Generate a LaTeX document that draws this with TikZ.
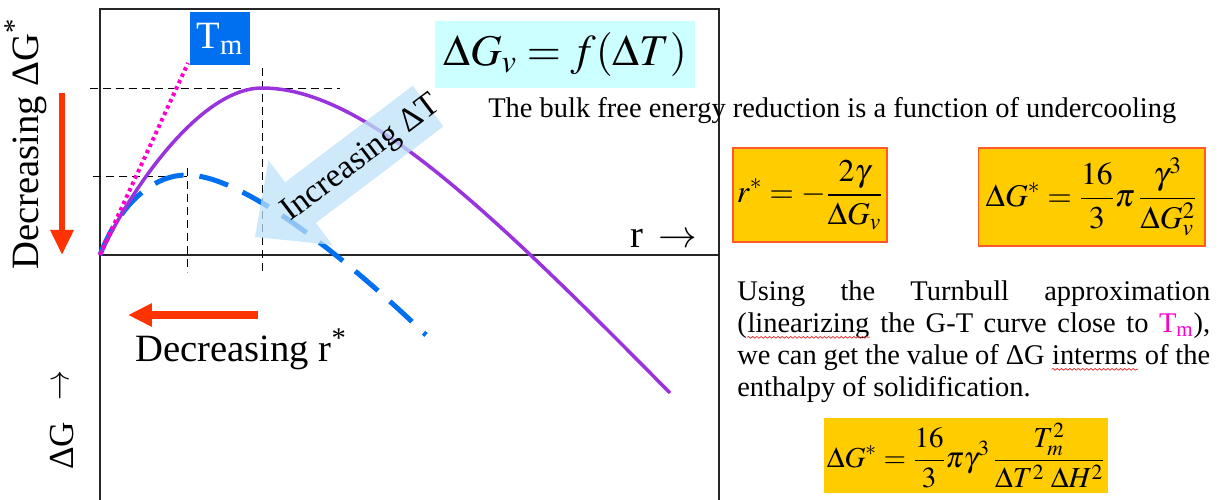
\documentclass[tikz,border=0pt]{standalone}
\usepackage{mathptmx}
\usepackage[no-math]{fontspec}
\setmainfont{Liberation Serif}
\usetikzlibrary{arrows.meta, positioning, decorations.pathmorphing}
\definecolor{curvepurple}{RGB}{153,51,221}
\definecolor{curveblue}{RGB}{0,112,240}
\definecolor{tmblue}{RGB}{0,112,240}
\definecolor{tangentpink}{RGB}{255,0,204}
\definecolor{eqcyan}{RGB}{204,255,255}
\definecolor{eqgold}{RGB}{255,204,0}
\definecolor{eqedge}{RGB}{255,90,40}
\definecolor{hintred}{RGB}{255,51,0}
\definecolor{arrowsky}{RGB}{190,225,248}
\definecolor{waved}{RGB}{230,40,40}
\tikzset{
  frame/.style={draw=black!85, line width=0.8pt},
  guide/.style={draw=black, line width=0.5pt, dash pattern=on 0.16cm off 0.1cm},
  bigtext/.style={font=\fontsize{22}{26}\selectfont, inner sep=0pt},
  bodytext/.style={font=\fontsize{16.2}{18.2}\selectfont, inner sep=0pt},
  eqbox/.style={rectangle, fill=eqgold, draw=eqedge, line width=0.6pt,
    inner sep=0pt, font=\fontsize{18}{21}\selectfont},
  redarr/.style={draw=hintred, line width=#1},
  wavy/.style={draw=waved, line width=0.4pt, decorate,
    decoration={snake, amplitude=0.5pt, segment length=2.4pt}},
}
\newcommand\spellwave[1]{\tikz[baseline=(w.base)]{\node[inner sep=0pt] (w) {#1};
  \draw[wavy] ([yshift=-3pt]w.base west) -- ([yshift=-3pt]w.base east);}}

\begin{document}
\begin{tikzpicture}[x=0.02cm, y=0.02cm]
\useasboundingbox (0,0) rectangle (1221,500);

% Frame and r axis
\coordinate (origin) at (100,245);
\coordinate (raxis) at (719,245);
\draw[frame] (100,0) -- (100,491) -- (719,491) -- (719,0);
\draw[frame] (origin) -- (raxis);

% Guide lines at the maxima
\draw[guide] (90,412) -- (340,412);
\draw[guide] (262,432) -- (262,228);
\draw[guide] (93,324) -- (187,324);
\draw[guide] (187,332) -- (187,228);

% Free energy curves
\draw[curveblue, line width=0.1cm, dash pattern=on 0.6cm off 0.32cm]
  (origin) .. controls (118,292) and (150,325) .. (187,325)
  .. controls (235,325) and (325,262) .. (426,165);
\draw[curvepurple, line width=0.07cm]
  (origin) .. controls (130,310) and (200,412) .. (262,412)
  .. controls (360,412) and (480,300) .. (670,107);
\coordinate (tangentend) at (188,437);
\draw[tangentpink, line width=0.08cm, dash pattern=on 0.07cm off 0.07cm]
  (origin) -- (tangentend);

% Tm label
\node (tm) [fill=tmblue, minimum width=1.2cm, minimum height=1.06cm, inner sep=0pt,
  text=white, font=\fontsize{22}{26}\selectfont] at (220,461.5) {T\textsubscript{m}};

% Increasing undercooling arrow
\begin{scope}[shift={(255,263)}, rotate=37.1]
  \fill[arrowsky, fill opacity=0.75]
    (0,0) -- (57,53) -- (57,25.5) -- (217,25.5) -- (217,-25.5)
    -- (57,-25.5) -- (57,-53) -- cycle;
  \node (incdt) [rotate=37.1, inner sep=0pt, font=\fontsize{19}{22}\selectfont]
    at (132,-2) {Increasing ΔT};
\end{scope}

% Axis labels
\node (decg) [bigtext, rotate=90, anchor=base west] at (38,230)
  {Decreasing ΔG\textsuperscript{*}};
\node (dg) [bigtext, font=\fontsize{20}{24}\selectfont, rotate=90, anchor=base west] at (73,30)
  {ΔG\hspace{0.6em}\raisebox{2.5pt}{\scalebox{0.85}[1]{$\rightarrow$}}};
\node (r) [bigtext, anchor=base west] at (630,252) {r\hspace{0.4em}$\rightarrow$};
\node (decr) [bigtext, anchor=base west] at (135,138) {Decreasing r\textsuperscript{*}};

% Red trend arrows
\coordinate (decgtop) at (62,407);
\coordinate (decgtip) at (62,245);
\draw[redarr=0.12cm, -{Triangle[length=0.5cm, width=0.44cm]}] (decgtop) -- (decgtip);
\coordinate (decrtail) at (258,185);
\coordinate (decrtip) at (128,185);
\draw[redarr=0.16cm, -{Triangle[length=0.48cm, width=0.44cm]}] (decrtail) -- (decrtip);

% Equations and notes
\node (gv) [fill=eqcyan, minimum width=5.2cm, minimum height=1.34cm, inner sep=0pt,
  font=\fontsize{25}{29}\selectfont] at (565,445.5) {$\Delta G_v = f(\Delta T)$};
\node (bulk) [bodytext, anchor=base west] at (488,382)
  {The bulk free energy reduction is a function of undercooling};
\node (rstar) [eqbox, minimum width=3.08cm, minimum height=1.88cm] at (810,305)
  {$\displaystyle r^{*} = -\frac{2\gamma}{\Delta G_v}$};
\node (gstar) [eqbox, minimum width=4.54cm, minimum height=1.96cm] at (1091.5,303)
  {$\displaystyle \Delta G^{*} = \frac{16}{3}\pi\,\frac{\gamma^{3}}{\Delta G_v^{2}}$};
\node (turnbull) [bodytext, text width=9.46cm, align=justify, anchor=north west] at (737,220)
  {\hyphenpenalty=10000 Using the Turnbull approximation\linebreak
   (\spellwave{linearizing} the G-T curve close to \textcolor{tangentpink}{T\textsubscript{m}}),\linebreak
   we can get the value of ΔG \spellwave{interms} of the\linebreak
   enthalpy of solidification.};
\node (gturn) [eqbox, draw=none, font=\fontsize{16.5}{20}\selectfont,
  minimum width=5.68cm, minimum height=1.5cm] at (966,44.5)
  {$\displaystyle \Delta G^{*} = \frac{16}{3}\pi\gamma^{3}\,\frac{T_m^{2}}{\Delta T^{2}\;\Delta H^{2}}$};

\end{tikzpicture}
\end{document}
